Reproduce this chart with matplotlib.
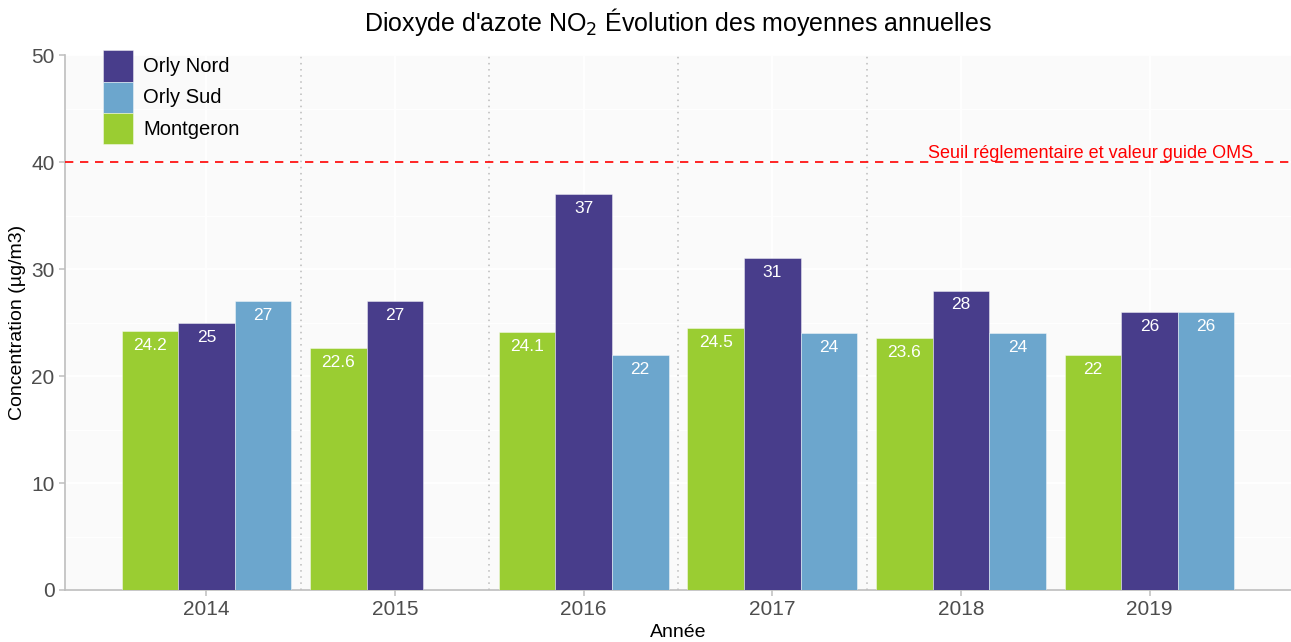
import numpy as np
import matplotlib
matplotlib.use("Agg")
import matplotlib.pyplot as plt
from matplotlib.ticker import MultipleLocator

plt.rcParams['font.family'] = ['Liberation Sans', 'DejaVu Sans']

# data
years = [2014, 2015, 2016, 2017, 2018, 2019]
montgeron = [24.2, 22.6, 24.1, 24.5, 23.6, 22]
orly_nord = [25, 27, 37, 31, 28, 26]
orly_sud = [27, np.nan, 22, 24, 24, 26]
seuil = 40
seuil_label = "Seuil réglementaire et valeur guide OMS"

colors = {"Orly Nord": "#483D8B", "Orly Sud": "#6CA6CD", "Montgeron": "#9ACD32"}

fig = plt.figure(figsize=(12.91, 6.42), dpi=100)
ax = fig.add_axes([0.0503, 0.081, 0.9497, 0.833])
ax.set_facecolor("#FAFAFA")

x = np.array(years, dtype=float)
w = 0.3
series = [("Montgeron", montgeron, -w), ("Orly Nord", orly_nord, 0.0), ("Orly Sud", orly_sud, w)]
handles = {}
for name, vals, off in series:
    vals = np.array(vals, dtype=float)
    ok = ~np.isnan(vals)
    bars = ax.bar(x[ok] + off, vals[ok], width=w, color=colors[name],
                  edgecolor="#FFFFFF80", linewidth=0.6, label=name, zorder=3)
    handles[name] = bars
    for xi, v in zip(x[ok] + off, vals[ok]):
        ax.annotate(f"{v:g}", (xi, v), xytext=(0, -5), textcoords="offset points",
                    ha="center", va="top", color="white", fontsize=12.5, zorder=4)

# threshold
ax.axhline(seuil, color="#FF0000", linestyle=(0, (5, 4)), linewidth=1.2, zorder=4)
ax.text(2019.55, seuil + 0.35, seuil_label, color="#FF0000", fontsize=13,
        ha="right", va="baseline", zorder=5)

# separators between years
for xs in [2014.5, 2015.5, 2016.5, 2017.5]:
    ax.axvline(xs, color="#BBBBBB", linestyle=(0, (1, 3)), linewidth=1.1, zorder=2)

ax.set_xlim(2013.25, 2019.75)
ax.set_ylim(0, 50)
ax.set_xticks(years)
ax.set_xticklabels([str(y) for y in years])
ax.yaxis.set_major_locator(MultipleLocator(10))
ax.yaxis.set_minor_locator(MultipleLocator(5))
ax.grid(True, which="major", color="white", linewidth=1.2, zorder=0)
ax.grid(True, which="minor", axis="y", color="white", linewidth=0.6, zorder=0)
ax.set_axisbelow(True)

for s in ["top", "right"]:
    ax.spines[s].set_visible(False)
for s in ["left", "bottom"]:
    ax.spines[s].set_color("#BEBEBE")
    ax.spines[s].set_linewidth(1.2)
ax.tick_params(axis="both", which="major", colors="#BEBEBE", labelcolor="#4D4D4D",
               labelsize=15, length=4, width=1.1)
ax.tick_params(axis="y", which="minor", length=0)

ax.set_xlabel("Année", fontsize=14, labelpad=3)
ax.set_ylabel("Concentration (µg/m3)", fontsize=14, labelpad=4)
fig.suptitle("Dioxyde d'azote NO$_2$ Évolution des moyennes annuelles",
             x=0.525, y=0.99, fontsize=18, va="top")

order = ["Orly Nord", "Orly Sud", "Montgeron"]
ax.legend([handles[n] for n in order], order, loc="upper left",
          bbox_to_anchor=(0.031, 1.009), frameon=False, fontsize=14.5,
          handlelength=1.49, handleheight=2.0, labelspacing=0.0, handletextpad=0.5,
          borderaxespad=0.0, borderpad=0.0)

fig.savefig("out.png", dpi=100)
